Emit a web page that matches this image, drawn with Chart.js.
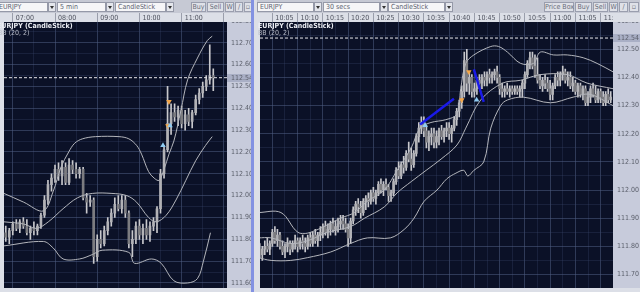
<!DOCTYPE html>
<html>
<head>
<meta charset="utf-8">
<script src="https://cdn.jsdelivr.net/npm/chart.js@4.4.1/dist/chart.umd.min.js"></script>
<style>
  body { margin: 0; width: 640px; height: 292px; overflow: hidden; position: relative; background: #c6c9d4;
         font-family: 'Liberation Sans Narrow', 'DejaVu Sans Condensed', 'Liberation Sans', Arial, sans-serif; }
  .tb { position: absolute; top: 0; height: 13px; overflow: hidden; background: #c6c9d4; }
  .sel { position: absolute; top: 2px; height: 10px; box-sizing: border-box; background: #f6f6f8; border: 1px solid #9599a8;
         font-size: 7px; line-height: 8px; color: #606470; padding-left: 2px; white-space: nowrap; }
  .dd { position: absolute; top: 2px; width: 8px; height: 10px; box-sizing: border-box; background: #e4e6ec; border: 1px solid #9599a8; }
  .dd::after { content: ''; position: absolute; left: 1px; top: 3px; border-left: 2px solid transparent; border-right: 2px solid transparent; border-top: 3px solid #333; }
  .btn { position: absolute; top: 2px; height: 10px; box-sizing: border-box; background: #dfe1e8; border: 1px solid #9a9eae;
         font-size: 7px; line-height: 8px; color: #6a6e7a; text-align: center; white-space: nowrap; }
  canvas { position: absolute; top: 13px; background: #dcdfe7; }
  .ttl { position: absolute; font-size: 7px; line-height: 7px; white-space: nowrap; pointer-events: none; }
</style>
</head>
<body>

<!-- left toolbar -->
<div class="tb" style="left:0;width:251px">
  <div class="sel" style="left:-10px;width:58px">&nbsp;&nbsp;&nbsp;EURJPY</div><div class="dd" style="left:48px"></div>
  <div class="sel" style="left:57px;width:49px">5 min</div><div class="dd" style="left:106px"></div>
  <div class="sel" style="left:115px;width:51px">CandleStick</div><div class="dd" style="left:166px"></div>
  <div class="btn" style="left:191px;width:15px">Buy</div>
  <div class="btn" style="left:207px;width:17px">Sell</div>
  <div class="btn" style="left:225px;width:9px">W</div>
  <div class="btn" style="left:235px;width:8px">/</div>
  <div class="btn" style="left:244px;width:8px">&#9643;</div>
</div>

<!-- right toolbar -->
<div class="tb" style="left:256px;width:384px">
  <div class="sel" style="left:1px;width:57px">EURJPY</div><div class="dd" style="left:58px"></div>
  <div class="sel" style="left:67px;width:57px">30 secs</div><div class="dd" style="left:124px"></div>
  <div class="sel" style="left:132px;width:57px">CandleStick</div><div class="dd" style="left:189px"></div>
  <div class="btn" style="left:288px;width:30px">Price Box</div>
  <div class="btn" style="left:319px;width:17px">Buy</div>
  <div class="btn" style="left:337px;width:15px">Sell</div>
  <div class="btn" style="left:353px;width:9px">W</div>
  <div class="btn" style="left:363px;width:9px">/</div>
  <div class="btn" style="left:373px;width:10px">&#9643;</div>
</div>

<!-- splitter -->
<div style="position:absolute;left:251px;top:0;width:3px;height:292px;background:#8392e2"></div>
<div style="position:absolute;left:254px;top:0;width:3px;height:292px;background:#dcdee6"></div>

<canvas id="left" width="251" height="279" style="left:0"></canvas>
<canvas id="right" width="384" height="279" style="left:256px"></canvas>

<div class="ttl" style="left:-3px;top:23px;color:#eceef4;font-weight:bold">EURJPY (CandleStick)</div>
<div class="ttl" style="left:-2px;top:30px;color:#b9bdc8">BB (20, 2)</div>
<div class="ttl" style="left:258px;top:23px;color:#eceef4;font-weight:bold">EURJPY (CandleStick)</div>
<div class="ttl" style="left:258px;top:30px;color:#b9bdc8">BB (20, 2)</div>

<script>
// ---- left chart: EURJPY 5 min, slots of 5 minutes counted from 07:00 ----
const leftFirstSlot = -2; // 06:50
const leftOpen  = [111.83,111.81,111.84,111.87,111.85,111.88,111.86,111.83,111.85,111.84,111.86,111.91,111.98,112.05,112.08,112.12,112.09,112.13,112.06,112.14,
                   112.12,112.10,112.12,111.99,111.97,111.98,111.72,111.80,111.78,111.84,111.88,111.92,111.96,111.94,111.98,111.92,111.78,111.80,111.86,111.82,
                   111.85,111.82,111.86,111.88,111.94,112.10,112.21,112.33,112.38,112.36,112.39,112.33,112.37,112.34,112.38,112.44,112.47,112.50,112.53,112.55];
const leftHigh  = [111.86,111.85,111.88,111.89,111.89,111.90,111.89,111.86,111.88,111.87,111.92,112.00,112.07,112.10,112.14,112.15,112.16,112.15,112.17,112.16,
                   112.15,112.13,112.13,112.01,112.00,111.99,111.82,111.84,111.86,111.90,111.94,111.99,112.00,112.00,112.00,111.93,111.84,111.88,111.89,111.87,
                   111.89,111.88,111.90,111.95,112.12,112.23,112.50,112.42,112.42,112.41,112.41,112.39,112.40,112.39,112.46,112.49,112.52,112.55,112.69,112.58];
const leftLow   = [111.79,111.78,111.82,111.84,111.83,111.85,111.82,111.80,111.82,111.82,111.85,111.90,111.96,112.02,112.06,112.07,112.05,112.05,112.05,112.10,
                   112.08,112.08,111.98,111.92,111.95,111.69,111.70,111.76,111.77,111.82,111.86,111.90,111.93,111.92,111.90,111.76,111.72,111.78,111.80,111.78,
                   111.80,111.79,111.84,111.83,111.92,112.08,112.20,112.28,112.34,112.32,112.31,112.30,112.32,112.31,112.37,112.42,112.45,112.48,112.51,112.48];
const leftClose = [111.81,111.84,111.87,111.85,111.88,111.86,111.83,111.85,111.84,111.86,111.91,111.98,112.05,112.08,112.12,112.09,112.13,112.06,112.14,112.12,
                   112.10,112.12,111.99,111.97,111.98,111.72,111.80,111.78,111.84,111.88,111.92,111.96,111.94,111.98,111.92,111.78,111.80,111.86,111.82,111.85,
                   111.82,111.86,111.88,111.94,112.10,112.21,112.33,112.38,112.36,112.39,112.33,112.37,112.34,112.38,112.44,112.47,112.50,112.53,112.55,112.54];

// Bollinger (20, 2) lines, x in slots
const leftUpperX = [-2.5,3.1,8.7,11.5,13.7,15.9,17.6,19.8,23.5,30.2,33.0,35.2,36.6,38.6,40.2,41.6,43.0,44.4,45.8,47.8,49.7,52.5,55.3,56.7];
const leftUpper  = [112.01,111.97,111.93,112.02,112.13,112.20,112.24,112.26,112.27,112.27,112.26,112.23,112.19,112.11,112.08,112.07,112.12,112.19,112.25,112.39,112.53,112.63,112.71,112.73];
const leftMidX   = [-2.5,3.1,6.7,10.1,14.3,18.4,22.6,28.2,32.4,35.2,38.6,40.8,43.6,46.4,49.2,52.0,54.8,56.7];
const leftMid    = [111.88,111.87,111.85,111.88,111.94,111.99,112.01,112.01,112.00,111.97,111.90,111.88,111.91,111.98,112.07,112.16,112.23,112.27];
const leftLowerX = [-2.5,8.7,11.5,14.3,19.0,22.6,25.4,33.0,34.6,39.4,42.2,45.8,49.7,52.5,54.2,56.2];
const leftLower  = [111.77,111.79,111.76,111.71,111.71,111.73,111.75,111.74,111.69,111.71,111.69,111.61,111.60,111.62,111.70,111.83];

const leftBuyX  = [42.7, 44.7];
const leftBuyY  = [112.23, 112.32];
const leftSellX = [44.1, 44.4];
const leftSellY = [112.32, 112.43];

const leftTimeLabels  = ['07:00', '08:00', '09:00', '10:00', '11:00', '12:00'];
const leftPriceLabels = ['111.60','111.70','111.80','111.90','112.00','112.10','112.20','112.30','112.40','112.50','112.60','112.70','112.80'];

// ---- right chart: EURJPY 30 secs, slots of 30 seconds counted from 10:00 ----
const rightFirstSlot = 5;
const rightOpen  = [111.79,111.77,111.79,111.80,111.79,111.81,111.85,111.82,111.84,111.80,111.78,111.80,111.81,111.79,111.81,111.82,111.80,111.82,111.81,111.80,
                    111.83,111.81,111.84,111.82,111.84,111.85,111.87,111.85,111.86,111.88,111.86,111.87,111.88,111.89,111.88,111.86,111.83,111.89,111.93,111.95,
                    111.94,111.92,111.96,111.97,111.96,111.99,111.97,111.99,112.02,112.00,112.02,112.01,111.98,111.99,112.03,112.07,112.05,112.09,112.08,112.13,
                    112.11,112.09,112.13,112.19,112.22,112.24,112.21,112.17,112.19,112.20,112.17,112.19,112.21,112.19,112.21,112.22,112.20,112.22,112.25,112.28,
                    112.31,112.35,112.46,112.38,112.40,112.35,112.36,112.39,112.38,112.40,112.39,112.41,112.40,112.41,112.42,112.40,112.36,112.35,112.36,112.35,
                    112.36,112.35,112.36,112.35,112.36,112.38,112.41,112.45,112.47,112.44,112.41,112.39,112.37,112.39,112.38,112.36,112.34,112.37,112.40,112.39,
                    112.41,112.42,112.39,112.40,112.37,112.38,112.35,112.37,112.34,112.36,112.31,112.33,112.36,112.34,112.32,112.35,112.33,112.31,112.34,112.32];
const rightHigh  = [111.81,111.80,111.82,111.83,111.82,111.86,111.87,111.86,111.85,111.82,111.81,111.83,111.82,111.82,111.84,111.83,111.83,111.84,111.83,111.84,
                    111.85,111.85,111.86,111.85,111.87,111.88,111.89,111.88,111.89,111.90,111.89,111.90,111.91,111.91,111.90,111.88,111.90,111.94,111.96,111.97,
                    111.96,111.97,111.98,111.99,112.00,112.01,112.00,112.03,112.04,112.03,112.04,112.02,112.00,112.04,112.08,112.10,112.10,112.12,112.14,112.17,
                    112.15,112.14,112.20,112.24,112.26,112.26,112.23,112.21,112.22,112.22,112.21,112.22,112.23,112.22,112.24,112.24,112.23,112.26,112.29,112.32,
                    112.37,112.49,112.50,112.42,112.41,112.38,112.40,112.41,112.41,112.42,112.42,112.43,112.42,112.43,112.44,112.41,112.38,112.37,112.38,112.37,
                    112.37,112.37,112.37,112.37,112.39,112.42,112.46,112.49,112.49,112.48,112.47,112.41,112.40,112.41,112.40,112.39,112.38,112.41,112.42,112.42,
                    112.44,112.43,112.42,112.42,112.40,112.39,112.38,112.38,112.37,112.37,112.35,112.37,112.38,112.37,112.36,112.36,112.35,112.35,112.36,112.35];
const rightLow   = [111.76,111.75,111.77,111.78,111.77,111.80,111.81,111.80,111.79,111.77,111.76,111.78,111.77,111.78,111.79,111.78,111.79,111.79,111.78,111.79,
                    111.80,111.80,111.81,111.80,111.82,111.83,111.84,111.83,111.84,111.85,111.84,111.85,111.86,111.86,111.85,111.80,111.81,111.88,111.91,111.92,
                    111.90,111.91,111.93,111.94,111.95,111.96,111.95,111.98,111.99,111.98,112.00,111.96,111.96,111.98,112.02,112.04,112.04,112.06,112.07,112.10,
                    112.07,112.08,112.12,112.17,112.20,112.19,112.15,112.14,112.16,112.15,112.15,112.16,112.18,112.17,112.19,112.18,112.17,112.21,112.23,112.26,
                    112.29,112.33,112.35,112.34,112.33,112.33,112.34,112.36,112.36,112.37,112.37,112.38,112.38,112.39,112.38,112.34,112.33,112.33,112.34,112.33,
                    112.34,112.34,112.34,112.33,112.33,112.36,112.40,112.43,112.43,112.40,112.38,112.36,112.35,112.36,112.35,112.32,112.32,112.36,112.37,112.37,
                    112.39,112.38,112.37,112.36,112.35,112.34,112.33,112.33,112.32,112.30,112.30,112.31,112.33,112.31,112.31,112.31,112.30,112.30,112.31,112.31];
const rightClose = [111.77,111.79,111.80,111.79,111.81,111.85,111.82,111.84,111.80,111.78,111.80,111.81,111.79,111.81,111.82,111.80,111.82,111.81,111.80,111.83,
                    111.81,111.84,111.82,111.84,111.85,111.87,111.85,111.86,111.88,111.86,111.87,111.88,111.89,111.88,111.86,111.83,111.89,111.93,111.95,111.94,
                    111.92,111.96,111.97,111.96,111.99,111.97,111.99,112.02,112.00,112.02,112.01,111.98,111.99,112.03,112.07,112.05,112.09,112.08,112.13,112.11,
                    112.09,112.13,112.19,112.22,112.24,112.21,112.17,112.19,112.20,112.17,112.19,112.21,112.19,112.21,112.22,112.20,112.22,112.25,112.28,112.31,
                    112.35,112.46,112.38,112.40,112.35,112.36,112.39,112.38,112.40,112.39,112.41,112.40,112.41,112.42,112.40,112.36,112.35,112.36,112.35,112.36,
                    112.35,112.36,112.35,112.36,112.38,112.41,112.45,112.47,112.44,112.41,112.39,112.37,112.39,112.38,112.36,112.34,112.37,112.40,112.39,112.41,
                    112.42,112.39,112.40,112.37,112.38,112.35,112.37,112.34,112.36,112.31,112.33,112.36,112.34,112.32,112.35,112.33,112.31,112.34,112.32,112.33];

const rightUpperX = [4.3,13.4,20.1,25.2,37.0,42.5,47.6,54.3,59.4,65.0,68.5,72.8,78.7,83.1,84.6,86.6,89.8,96.5,99.6,103.1,108.3,113.4,116.1,121.3,126.8,133.1,138.6,144.9];
const rightUpper  = [111.92,111.92,111.85,111.85,111.90,111.92,111.96,112.00,112.07,112.15,112.22,112.24,112.25,112.27,112.36,112.45,112.48,112.51,112.51,112.49,112.45,112.45,112.49,112.48,112.48,112.47,112.45,112.42];
const rightMidX   = [4.3,9.5,17.3,24.0,31.9,40.9,46.5,54.3,59.4,65.0,70.9,76.8,83.1,86.6,92.5,101.2,108.3,116.1,126.8,134.6,144.9];
const rightMid    = [111.83,111.83,111.81,111.82,111.85,111.87,111.90,111.94,111.99,112.03,112.07,112.11,112.16,112.22,112.32,112.38,112.39,112.41,112.41,112.38,112.36];
const rightLowerX = [4.3,9.5,17.3,24.0,33.1,40.9,47.6,56.7,62.2,66.1,70.1,75.2,79.1,82.7,85.8,87.4,89.8,93.7,96.5,100.4,103.1,109.4,120.1,129.1,135.8,144.9];
const rightLower  = [111.76,111.75,111.75,111.76,111.78,111.81,111.83,111.83,111.86,111.90,111.96,112.00,112.04,112.06,112.07,112.05,112.07,112.10,112.22,112.30,112.32,112.33,112.31,112.33,112.34,112.30];

const rightBuyX  = [70.5, 90.9];
const rightBuyY  = [112.23, 112.32];
const rightSellX = [85.0, 87.8];
const rightSellY = [112.32, 112.42];
// hand drawn trend lines
const rightTrendA = [[68.5, 112.233], [81.9, 112.324]];
const rightTrendB = [[89.8, 112.429], [93.7, 112.313]];

const rightTimeLabels  = ['10:05','10:10','10:15','10:20','10:25','10:30','10:35','10:40','10:45','10:50','10:55','11:00','11:05','11:10'];
const rightPriceLabels = ['111.70','111.80','111.90','112.00','112.10','112.20','112.30','112.40','112.50','112.60'];

const lastPrice = 112.54;

// ---------------------------------------------------------------
const axisFont = {family: "'Liberation Sans Narrow','DejaVu Sans Condensed','Liberation Sans',sans-serif", size: 7};

// dark plot area, price strip and the highlighted last price box
const panelBg = {
    id: 'panelBg',
    beforeDraw(chart) {
        const {ctx, chartArea: a, scales: {y}} = chart;
        ctx.save();
        ctx.fillStyle = '#c7cbdb';
        ctx.fillRect(y.left, a.top, y.right - y.left, a.bottom - a.top);
        const py = Math.round(y.getPixelForValue(lastPrice));
        ctx.fillStyle = '#a9afc5';
        ctx.fillRect(y.left, py - 4, y.right - y.left, 8);
        ctx.fillStyle = '#0b1127';
        ctx.fillRect(a.left, a.top, a.right - a.left, a.bottom - a.top);
        ctx.restore();
        // cut off anything above the price strip (clipped time label)
        ctx.save();
        ctx.beginPath();
        ctx.rect(0, 0, a.right, chart.height);
        ctx.rect(a.right, a.top, chart.width - a.right, chart.height - a.top);
        ctx.clip();
    },
    afterDraw(chart) {
        chart.ctx.restore();
    }
};

function toSlot(label, base, step) {
    const [h, m] = label.split(':').map(Number);
    return (h * 60 + m - base) / step;
}

function band(xs, ys) {
    return {type: 'line', data: xs.map((x, k) => ({x, y: ys[k]})), borderColor: '#b4b6bc', borderWidth: 1,
        pointRadius: 0, tension: 0.35, order: 3};
}

function markers(xs, ys, color, down) {
    return {type: 'line', data: xs.map((x, k) => ({x, y: ys[k]})), showLine: false, pointStyle: 'triangle',
        pointRadius: 3.2, pointRotation: down ? 180 : 0, backgroundColor: color, borderWidth: 0, order: 1};
}

function noPad(sc) {
    sc.paddingTop = 0; sc.paddingBottom = 0; sc.paddingLeft = 0; sc.paddingRight = 0;
}

function makeChart(id, s) {
    const xs = s.open.map((o, k) => s.first + k);
    const timeSlots = s.timeLabels.map(t => toSlot(t, s.base, s.step));
    const halfSlots = timeSlots.map(v => v - s.minorGap);
    const priceTicks = [];
    s.priceLabels.forEach(p => { priceTicks.push({value: +p - 0.05}); priceTicks.push({value: +p, major: true}); });
    priceTicks.push({value: lastPrice, last: true});
    priceTicks.sort((a, b) => a.value - b.value);

    const datasets = [
        {data: xs.map((x, k) => ({x, y: [s.low[k], s.high[k]]})), backgroundColor: '#c8c8cc',
            barThickness: 1, grouped: false, order: 6},
        {data: xs.map((x, k) => ({x, y: [s.open[k], s.close[k]]})),
            backgroundColor: s.open.map((o, k) => s.close[k] >= o ? '#b2b2b6' : '#7c7c80'),
            barThickness: s.bodyW, minBarLength: 1, grouped: false, order: 5},
        band(s.upX, s.up), band(s.midX, s.mid), band(s.lowX, s.lowB),
        {type: 'line', data: [{x: s.xMin, y: lastPrice}, {x: s.xMax, y: lastPrice}], borderColor: '#e6e6ea',
            borderWidth: 1, borderDash: [3, 2], pointRadius: 0, order: 2},
        markers(s.buyX, s.buyY, '#8fcbf2', false),
        markers(s.sellX, s.sellY, '#f3a64a', true),
    ];
    (s.trends || []).forEach(t => datasets.push({type: 'line', data: t.map(p => ({x: p[0], y: p[1]})),
        borderColor: '#1a1ae8', borderWidth: 2.5, pointRadius: 0, order: 1}));

    return new Chart(document.getElementById(id), {
        type: 'bar',
        data: {datasets},
        plugins: [panelBg],
        options: {
            responsive: false,
            animation: false,
            devicePixelRatio: 1,
            layout: {padding: {left: s.padLeft, top: 0, right: 0, bottom: 0}},
            plugins: {legend: {display: false}, tooltip: {enabled: false}},
            scales: {
                x: {
                    type: 'linear', position: 'top', min: s.xMin, max: s.xMax, offset: false,
                    afterBuildTicks: sc => {
                        sc.ticks = halfSlots.filter(v => v > s.xMin).map(v => ({value: v}))
                            .concat(timeSlots.map(v => ({value: v, major: true})))
                            .sort((a, b) => a.value - b.value);
                    },
                    afterFit: sc => { sc.height = 9; noPad(sc); },
                    grid: {
                        offset: false, tickLength: 9,
                        color: c => c.tick && c.tick.major ? 'rgba(78,92,130,0.55)' : 'rgba(60,74,110,0.3)',
                        tickColor: c => c.tick && c.tick.major ? '#9a9eab' : 'rgba(0,0,0,0)',
                    },
                    border: {display: false},
                    ticks: {
                        autoSkip: false, maxRotation: 0, align: 'start', labelOffset: 3, padding: -9,
                        font: axisFont, color: '#4e525e',
                        callback: v => {
                            const k = timeSlots.indexOf(v);
                            return k >= 0 ? s.timeLabels[k] : '';
                        }
                    }
                },
                y: {
                    position: 'right', min: s.yMin, max: s.yMax,
                    afterBuildTicks: sc => { sc.ticks = priceTicks.map(t => Object.assign({}, t)); },
                    afterFit: sc => { sc.width = s.stripW; noPad(sc); },
                    grid: {
                        drawTicks: false,
                        color: c => {
                            if (!c.tick || c.tick.last || c.tick.value > s.yMax || c.tick.value < s.yMin) return 'rgba(0,0,0,0)';
                            return c.tick.major ? 'rgba(78,92,130,0.55)' : 'rgba(60,74,110,0.3)';
                        }
                    },
                    border: {display: false},
                    ticks: {
                        autoSkip: false, padding: 4, font: axisFont, color: '#5a5e6a',
                        callback: (v, i, ticks) => (ticks[i].major || ticks[i].last) ? v.toFixed(2) : ''
                    }
                }
            }
        }
    });
}

makeChart('left', {
    first: leftFirstSlot, open: leftOpen, high: leftHigh, low: leftLow, close: leftClose,
    upX: leftUpperX, up: leftUpper, midX: leftMidX, mid: leftMid, lowX: leftLowerX, lowB: leftLower,
    buyX: leftBuyX, buyY: leftBuyY, sellX: leftSellX, sellY: leftSellY,
    timeLabels: leftTimeLabels, base: 420, step: 5, minorGap: 6,
    priceLabels: leftPriceLabels,
    xMin: -2.5, xMax: 60.9, yMin: 111.577, yMax: 112.795,
    bodyW: 2, stripW: 24, padLeft: 0
});

makeChart('right', {
    first: rightFirstSlot, open: rightOpen, high: rightHigh, low: rightLow, close: rightClose,
    upX: rightUpperX, up: rightUpper, midX: rightMidX, mid: rightMid, lowX: rightLowerX, lowB: rightLower,
    buyX: rightBuyX, buyY: rightBuyY, sellX: rightSellX, sellY: rightSellY,
    trends: [rightTrendA, rightTrendB],
    timeLabels: rightTimeLabels, base: 600, step: 0.5, minorGap: 5,
    priceLabels: rightPriceLabels,
    xMin: 5.1, xMax: 144.9, yMin: 111.652, yMax: 112.597,
    bodyW: 2, stripW: 27, padLeft: 2
});
</script>
</body>
</html>
